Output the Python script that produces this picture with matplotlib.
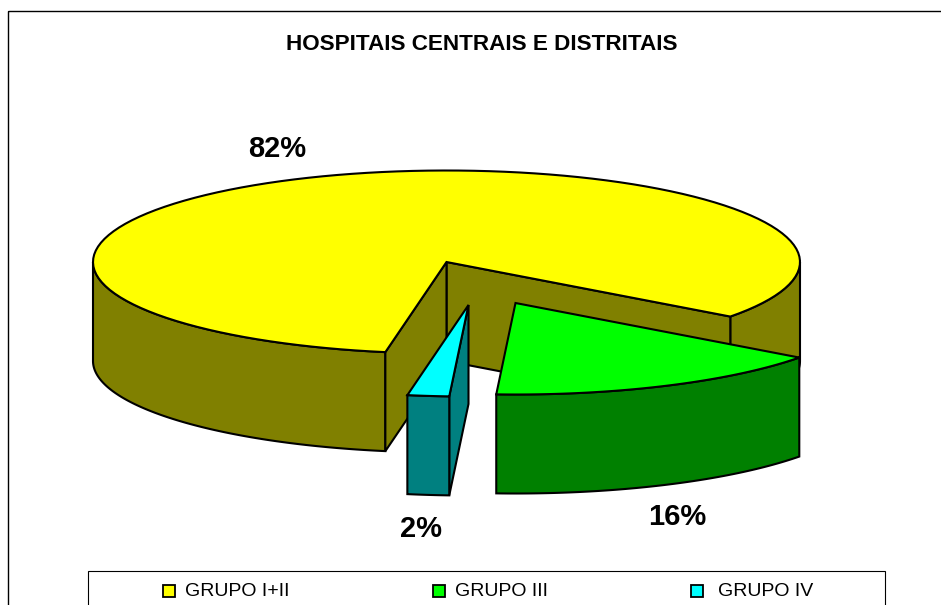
import numpy as np
import matplotlib
matplotlib.use('Agg')
import matplotlib.pyplot as plt
from matplotlib.patches import Polygon, Rectangle

plt.rcParams['font.family'] = ['Liberation Sans', 'DejaVu Sans']

title = 'HOSPITAIS CENTRAIS E DISTRITAIS'
groups = ['GRUPO I+II', 'GRUPO III', 'GRUPO IV']
shares = [82.4, 15.7, 1.9]
labels = ['82%', '16%', '2%']
top_colors = ['#FFFF00', '#00FF00', '#00FFFF']
side_colors = ['#808000', '#008000', '#008080']

# pie geometry, in pixels of the picture
cx, cy = 446.5, 262
rx, ry = 353.5, 91.5
depth = 99
start = -36.6
lw = 1.5

fig = plt.figure(figsize=(9.41, 6.05), dpi=100)
ax = fig.add_axes([0, 0, 1, 1])
ax.set_xlim(0, 941)
ax.set_ylim(605, 0)
ax.axis('off')


def rim(a0, a1, ox, oy, drop=0):
    t = np.radians(np.linspace(a0, a1, 120))
    return np.column_stack([cx + ox + rx * np.cos(t), cy + oy + drop - ry * np.sin(t)])


def wall(a0, a1, ox, oy, color, z):
    top = rim(a0, a1, ox, oy)
    bottom = rim(a0, a1, ox, oy, depth)[::-1]
    ax.add_patch(Polygon(np.vstack([top, bottom]), closed=True, fc=color, ec='black', lw=lw, zorder=z))


def inner_wall(ang, ox, oy, color, z):
    p = rim(ang, ang, ox, oy)[0]
    c = [cx + ox, cy + oy]
    pts = [c, p, [p[0], p[1] + depth], [c[0], c[1] + depth]]
    ax.add_patch(Polygon(pts, closed=True, fc=color, ec='black', lw=lw, zorder=z))


def top_face(a0, a1, ox, oy, color, z):
    pts = np.vstack([[[cx + ox, cy + oy]], rim(a0, a1, ox, oy)])
    ax.add_patch(Polygon(pts, closed=True, fc=color, ec='black', lw=lw, zorder=z))


# sweep angles come from the shares, going clockwise from the start angle
sweep = [s / sum(shares) * 360 for s in shares]
green_end = start - sweep[1]
cyan_end = green_end - sweep[2]
yellow_end = start + sweep[0]

# yellow slice
wall(start, 0, 0, 0, side_colors[0], 1)
wall(180, yellow_end, 0, 0, side_colors[0], 1)
inner_wall(start, 0, 0, side_colors[0], 2)
inner_wall(yellow_end, 0, 0, side_colors[0], 2)
top_face(start, yellow_end, 0, 0, top_colors[0], 3)

# cyan slice, pulled out
cyan_off = (22, 43)
inner_wall(green_end, cyan_off[0], cyan_off[1], side_colors[2], 4)
wall(cyan_end, green_end, cyan_off[0], cyan_off[1], side_colors[2], 5)
top_face(cyan_end, green_end, cyan_off[0], cyan_off[1], top_colors[2], 6)

# green slice, pulled out
green_off = (69, 41)
wall(green_end, start, green_off[0], green_off[1], side_colors[1], 7)
top_face(green_end, start, green_off[0], green_off[1], top_colors[1], 8)

# outer frame, runs off the picture on the right and bottom
ax.add_patch(Rectangle((8, 11), 960, 640, fc='none', ec='black', lw=1, zorder=0))

ax.text(482, 44, title, ha='center', va='center', fontsize=16.2, fontweight='bold')

label_pos = [(277, 149), (677, 517), (421, 529)]
for txt, pos in zip(labels, label_pos):
    ax.text(pos[0], pos[1], txt, ha='center', va='center', fontsize=21, fontweight='bold')

# legend box, cut by the bottom edge
ax.add_patch(Rectangle((88, 571), 797, 60, fc='white', ec='black', lw=0.8, zorder=9))
marker_x = [163, 433, 691]
text_x = [185, 455, 718]
for g, c, mx, tx in zip(groups, top_colors, marker_x, text_x):
    ax.add_patch(Rectangle((mx, 585), 12, 12, fc=c, ec='black', lw=1.3, zorder=10))
    ax.text(tx, 591.5, g, ha='left', va='center', fontsize=14, zorder=10)

fig.savefig('out.png', dpi=100)
